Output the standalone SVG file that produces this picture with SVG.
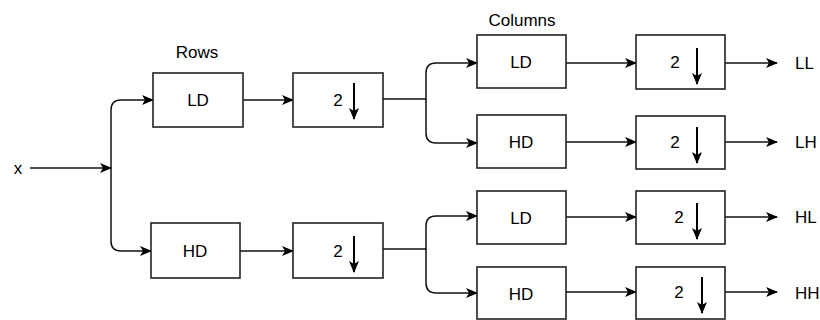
<svg xmlns="http://www.w3.org/2000/svg" width="820" height="320" viewBox="0 0 820 320">
  <defs>
    <marker id="arr" markerWidth="12" markerHeight="10" refX="11" refY="5" orient="auto" markerUnits="userSpaceOnUse">
      <path d="M0,0 L12,5 L0,10 L3,5 Z" fill="#000"/>
    </marker>
    <style>
      .box { fill: #fff; stroke: #222; stroke-width: 1.6; }
      .t { font-family: "Liberation Sans", Arial, sans-serif; font-size: 17px; fill: #000; text-anchor: middle; dominant-baseline: central; }
      .ts { font-family: "Liberation Sans", Arial, sans-serif; font-size: 17px; fill: #000; dominant-baseline: central; }
      .c { fill: none; stroke: #111; stroke-width: 1.5; }
      .dn { stroke: #000; stroke-width: 2; marker-end: url(#arr); }
    </style>
  </defs>
  <rect width="820" height="320" fill="#fff"/>

  <g id="connectors">
    <path class="c" d="M30,168 H111" marker-end="url(#arr)"/>
    <path class="c" d="M111,168 V110 Q111,100 121,100 H153" marker-end="url(#arr)"/>
    <path class="c" d="M111,168 V241 Q111,251 121,251 H151" marker-end="url(#arr)"/>
    <path class="c" d="M243,100 H293" marker-end="url(#arr)"/>
    <path class="c" d="M240,251 H293" marker-end="url(#arr)"/>
    <path class="c" d="M383,99 H426 V73 Q426,63 436,63 H477" marker-end="url(#arr)"/>
    <path class="c" d="M426,99 V133 Q426,143 436,143 H477" marker-end="url(#arr)"/>
    <path class="c" d="M383,249 H426 V226 Q426,216 436,216 H477" marker-end="url(#arr)"/>
    <path class="c" d="M426,249 V283 Q426,293 436,293 H477" marker-end="url(#arr)"/>
    <path class="c" d="M566,63 H636" marker-end="url(#arr)"/>
    <path class="c" d="M566,142 H636" marker-end="url(#arr)"/>
    <path class="c" d="M566,217 H636" marker-end="url(#arr)"/>
    <path class="c" d="M566,292 H636" marker-end="url(#arr)"/>
    <path class="c" d="M725,63 H777" marker-end="url(#arr)"/>
    <path class="c" d="M725,142 H777" marker-end="url(#arr)"/>
    <path class="c" d="M725,217 H777" marker-end="url(#arr)"/>
    <path class="c" d="M725,292 H777" marker-end="url(#arr)"/>
  </g>

  <g id="labels">
    <text class="t" x="18" y="168">x</text>
    <text class="t" x="197" y="52">Rows</text>
    <text class="t" x="522" y="20">Columns</text>
    <text class="ts" x="795" y="63">LL</text>
    <text class="ts" x="795" y="142">LH</text>
    <text class="ts" x="795" y="217">HL</text>
    <text class="ts" x="795" y="293">HH</text>
  </g>

  <g id="row-ld">
    <rect class="box" x="153" y="73" width="90" height="54"/>
    <text class="t" x="198" y="100">LD</text>
  </g>
  <g id="row-hd">
    <rect class="box" x="151" y="223" width="89" height="55"/>
    <text class="t" x="195" y="251">HD</text>
  </g>

  <g id="ds-row1">
    <rect class="box" x="293" y="73" width="90" height="54"/>
    <text class="t" x="338" y="100">2</text>
    <line class="dn" x1="354" y1="83" x2="354" y2="119"/>
  </g>
  <g id="ds-row2">
    <rect class="box" x="293" y="223" width="90" height="55"/>
    <text class="t" x="338" y="251">2</text>
    <line class="dn" x1="354" y1="236" x2="354" y2="272"/>
  </g>

  <g id="col-ld1">
    <rect class="box" x="477" y="35" width="89" height="53"/>
    <text class="t" x="521" y="62">LD</text>
  </g>
  <g id="col-hd1">
    <rect class="box" x="477" y="115" width="89" height="53"/>
    <text class="t" x="521" y="142">HD</text>
  </g>
  <g id="col-ld2">
    <rect class="box" x="477" y="191" width="89" height="53"/>
    <text class="t" x="521" y="218">LD</text>
  </g>
  <g id="col-hd2">
    <rect class="box" x="477" y="267" width="89" height="52"/>
    <text class="t" x="521" y="294">HD</text>
  </g>

  <g id="ds-ll">
    <rect class="box" x="636" y="35" width="89" height="54"/>
    <text class="t" x="675" y="62">2</text>
    <line class="dn" x1="697" y1="48" x2="697" y2="84"/>
  </g>
  <g id="ds-lh">
    <rect class="box" x="636" y="116" width="89" height="53"/>
    <text class="t" x="675" y="142">2</text>
    <line class="dn" x1="697" y1="127" x2="697" y2="163"/>
  </g>
  <g id="ds-hl">
    <rect class="box" x="636" y="191" width="89" height="53"/>
    <text class="t" x="679" y="217">2</text>
    <line class="dn" x1="697" y1="203" x2="697" y2="239"/>
  </g>
  <g id="ds-hh">
    <rect class="box" x="636" y="267" width="89" height="52"/>
    <text class="t" x="679" y="292">2</text>
    <line class="dn" x1="702" y1="277" x2="702" y2="313"/>
  </g>
</svg>
